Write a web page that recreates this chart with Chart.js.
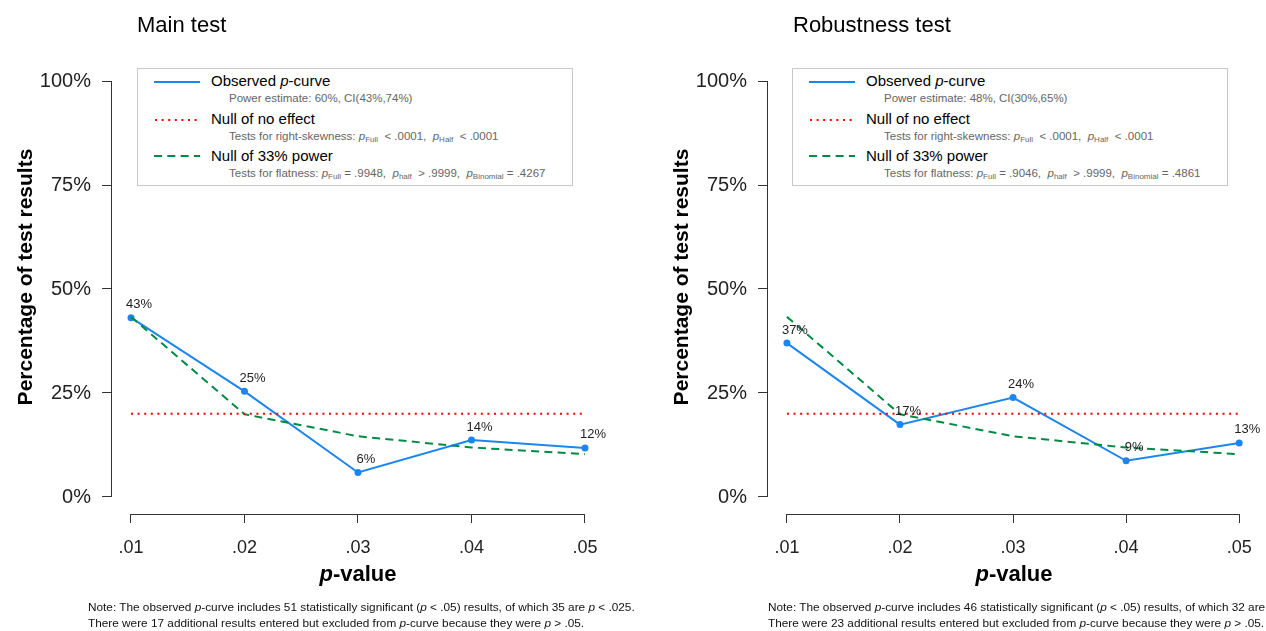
<!DOCTYPE html>
<html>
<head>
<meta charset="utf-8">
<script src="https://cdn.jsdelivr.net/npm/chart.js@4.4.1/dist/chart.umd.min.js"></script>
<style>
  body { margin: 0; width: 1266px; height: 631px; overflow: hidden; background: #fff;
         font-family: 'Liberation Sans', Arial, Helvetica, sans-serif; color: #111; position: relative; }
  canvas { position: absolute; top: 0; }
  .abs { position: absolute; white-space: nowrap; }
  .title { font-size: 22px; line-height: 22px; color: #000; }
  .xlab { font-size: 22px; line-height: 22px; font-weight: bold; color: #000; transform: translateX(-50%); }
  .legend { position: absolute; width: 434px; height: 116px; border: 1px solid #c8c8c8; background: #fff; }
  .legend .main { font-size: 15px; line-height: 16px; color: #000; }
  .legend .sub { font-size: 11.5px; line-height: 14px; color: #666; }
  .legend sub { font-size: 8px; vertical-align: -2px; line-height: 0; }
  .legend svg { position: absolute; left: 16px; }
  .note { font-size: 11.8px; line-height: 16px; color: #111; }
</style>
</head>
<body>
<canvas id="mainChart" width="656" height="631" style="left:0"></canvas>
<canvas id="robustChart" width="610" height="631" style="left:656px"></canvas>

<div class="abs title" style="left:137px; top:14px">Main test</div>
<div class="abs title" style="left:793px; top:14px">Robustness test</div>

<div class="abs xlab" style="left:358px; top:563px"><i>p</i>-value</div>
<div class="abs xlab" style="left:1014px; top:563px"><i>p</i>-value</div>

<div class="legend" style="left:137px; top:68px">
  <svg width="46" height="4" style="top:11px"><line x1="0" y1="2" x2="46" y2="2" stroke="#1C86EE" stroke-width="2"/></svg>
  <div class="abs main" style="left:73px; top:4px">Observed <i>p</i>-curve</div>
  <div class="abs sub" style="left:91px; top:22px">Power estimate: 60%, CI(43%,74%)</div>
  <svg width="46" height="4" style="top:49px"><line x1="1" y1="2" x2="46" y2="2" stroke="#FF0000" stroke-width="2" stroke-dasharray="2,4.6"/></svg>
  <div class="abs main" style="left:73px; top:42px">Null of no effect</div>
  <div class="abs sub" style="left:91px; top:60px">Tests for right-skewness: <i>p</i><sub>Full</sub> &nbsp;&lt; .0001, &nbsp;<i>p</i><sub>Half</sub> &nbsp;&lt; .0001</div>
  <svg width="46" height="4" style="top:85px"><line x1="0" y1="2" x2="46" y2="2" stroke="#008B45" stroke-width="2" stroke-dasharray="8,5.3"/></svg>
  <div class="abs main" style="left:73px; top:79px">Null of 33% power</div>
  <div class="abs sub" style="left:91px; top:97px">Tests for flatness: <i>p</i><sub>Full</sub> = .9948, &nbsp;<i>p</i><sub>half</sub> &nbsp;&gt; .9999, &nbsp;<i>p</i><sub>Binomial</sub> = .4267</div>
</div>

<div class="legend" style="left:792px; top:68px">
  <svg width="46" height="4" style="top:11px"><line x1="0" y1="2" x2="46" y2="2" stroke="#1C86EE" stroke-width="2"/></svg>
  <div class="abs main" style="left:73px; top:4px">Observed <i>p</i>-curve</div>
  <div class="abs sub" style="left:91px; top:22px">Power estimate: 48%, CI(30%,65%)</div>
  <svg width="46" height="4" style="top:49px"><line x1="1" y1="2" x2="46" y2="2" stroke="#FF0000" stroke-width="2" stroke-dasharray="2,4.6"/></svg>
  <div class="abs main" style="left:73px; top:42px">Null of no effect</div>
  <div class="abs sub" style="left:91px; top:60px">Tests for right-skewness: <i>p</i><sub>Full</sub> &nbsp;&lt; .0001, &nbsp;<i>p</i><sub>Half</sub> &nbsp;&lt; .0001</div>
  <svg width="46" height="4" style="top:85px"><line x1="0" y1="2" x2="46" y2="2" stroke="#008B45" stroke-width="2" stroke-dasharray="8,5.3"/></svg>
  <div class="abs main" style="left:73px; top:79px">Null of 33% power</div>
  <div class="abs sub" style="left:91px; top:97px">Tests for flatness: <i>p</i><sub>Full</sub> = .9046, &nbsp;<i>p</i><sub>half</sub> &nbsp;&gt; .9999, &nbsp;<i>p</i><sub>Binomial</sub> = .4861</div>
</div>

<div class="abs note" style="left:88px; top:599px">Note: The observed <i>p</i>-curve includes 51 statistically significant (<i>p</i> &lt; .05) results, of which 35 are <i>p</i> &lt; .025.<br>There were 17 additional results entered but excluded from <i>p</i>-curve because they were <i>p</i> &gt; .05.</div>
<div class="abs note" style="left:768px; top:599px">Note: The observed <i>p</i>-curve includes 46 statistically significant (<i>p</i> &lt; .05) results, of which 32 are <i>p</i> &lt; .025.<br>There were 23 additional results entered but excluded from <i>p</i>-curve because they were <i>p</i> &gt; .05.</div>

<script>
// p-value bins
const pValues = [0.01, 0.02, 0.03, 0.04, 0.05];
const yTicks = [0, 25, 50, 75, 100];

// main test: observed p-curve (%)
const mainObserved = [43.1, 25.4, 5.9, 13.7, 11.8];
// robustness test: observed p-curve (%)
const robustObserved = [37.0, 17.4, 23.9, 8.7, 13.0];
// null of no effect (uniform)
const nullNoEffect = [20, 20, 20, 20, 20];
// null of 33% power
const null33 = [43.3, 19.9, 14.6, 11.9, 10.3];

Chart.defaults.font.family = "'Liberation Sans', Arial, Helvetica, sans-serif";
Chart.defaults.color = '#222';

const axisColor = '#333';

// R-style axes: the lines only run between the first and last tick
const rAxes = {
  id: 'rAxes',
  beforeDatasetsDraw(chart) {
    const { ctx, chartArea, scales: { x, y } } = chart;
    ctx.save();
    ctx.strokeStyle = axisColor;
    ctx.lineWidth = 1;
    ctx.beginPath();
    const ax = Math.round(chartArea.left) + 0.5;
    ctx.moveTo(ax, y.getPixelForValue(yTicks[0]));
    ctx.lineTo(ax, y.getPixelForValue(yTicks[yTicks.length - 1]));
    const ay = Math.round(chartArea.bottom) + 0.5;
    ctx.moveTo(x.getPixelForValue(pValues[0]), ay);
    ctx.lineTo(x.getPixelForValue(pValues[pValues.length - 1]), ay);
    ctx.stroke();
    ctx.restore();
  }
};

// percentage labels above the observed points
const pointLabels = {
  id: 'pointLabels',
  afterDatasetsDraw(chart) {
    const { ctx } = chart;
    const ds = chart.data.datasets[2];
    const meta = chart.getDatasetMeta(2);
    ctx.save();
    ctx.font = "13px 'Liberation Sans', Arial, sans-serif";
    ctx.fillStyle = '#222';
    ctx.textAlign = 'center';
    ctx.textBaseline = 'middle';
    meta.data.forEach((pt, i) => {
      ctx.fillText(Math.round(ds.data[i].y) + '%', pt.x + 8, pt.y - 13);
    });
    ctx.restore();
  }
};

function toXY(vals) {
  return pValues.map((p, i) => ({ x: p, y: vals[i] }));
}

function makeChart(id, observed, padRight) {
  return new Chart(document.getElementById(id), {
    type: 'line',
    data: {
      datasets: [
        {
          label: 'Null of no effect',
          data: toXY(nullNoEffect),
          borderColor: '#FF0000',
          borderWidth: 2,
          borderDash: [2, 4.6],
          pointRadius: 0,
          fill: false
        },
        {
          label: 'Null of 33% power',
          data: toXY(null33),
          borderColor: '#008B45',
          borderWidth: 2,
          borderDash: [8, 5.3],
          pointRadius: 0,
          fill: false
        },
        {
          label: 'Observed p-curve',
          data: toXY(observed),
          borderColor: '#1C86EE',
          backgroundColor: '#1C86EE',
          borderWidth: 2,
          pointRadius: 3.5,
          pointBorderWidth: 0,
          fill: false
        }
      ]
    },
    options: {
      responsive: false,
      animation: false,
      layout: { padding: { top: 40, right: padRight, bottom: 0, left: 0 } },
      plugins: { legend: { display: false }, tooltip: { enabled: false } },
      scales: {
        x: {
          type: 'linear',
          min: 0.0082379,
          max: 0.0513216,
          afterFit(scale) { scale.height = 117; },
          afterBuildTicks(scale) { scale.ticks = pValues.map(v => ({ value: v })); },
          ticks: {
            font: { size: 18 },
            color: '#222',
            padding: 14,
            callback: v => v.toFixed(2).replace('0.', '.')
          },
          grid: { drawOnChartArea: false, tickLength: 9, color: axisColor },
          border: { display: false }
        },
        y: {
          min: -4.087,
          max: 109.856,
          afterFit(scale) { scale.width = 111; },
          afterBuildTicks(scale) { scale.ticks = yTicks.map(v => ({ value: v })); },
          ticks: {
            font: { size: 20 },
            color: '#222',
            padding: 11,
            callback: v => v + '%'
          },
          grid: { drawOnChartArea: false, tickLength: 9, color: axisColor },
          border: { display: false },
          title: {
            display: true,
            text: 'Percentage of test results',
            font: { size: 21, weight: 'bold' },
            color: '#000',
            padding: { top: 14, bottom: 0 }
          }
        }
      }
    },
    plugins: [rAxes, pointLabels]
  });
}

makeChart('mainChart', mainObserved, 56);
makeChart('robustChart', robustObserved, 10);
</script>
</body>
</html>
